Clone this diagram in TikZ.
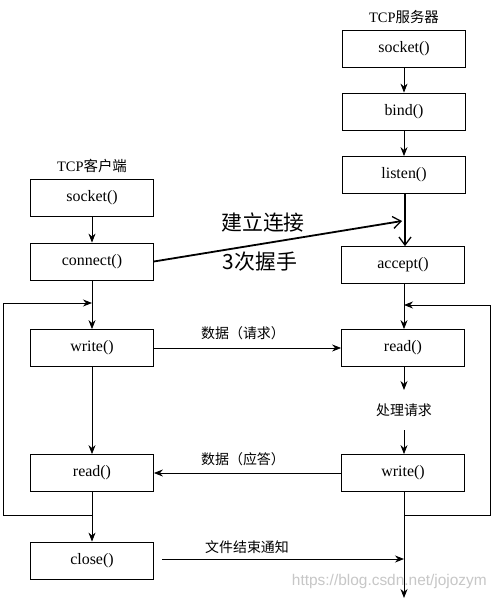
\documentclass[tikz,border=0pt]{standalone}
\usepackage{fontspec}
\setmainfont{Liberation Serif}
\newfontfamily\cjk{Noto Sans CJK SC}
\newfontfamily\wmfont{Liberation Sans}
\usetikzlibrary{arrows.meta}
\begin{document}
\begin{tikzpicture}[x=1bp,y=-1bp,
  box/.style={draw,line width=0.8bp,minimum width=123bp,minimum height=37bp,inner sep=0pt,font=\fontsize{16}{16}\selectfont},
  flow/.style={line width=0.8bp,-{Stealth[length=9bp,width=7bp]}},
  line/.style={line width=0.8bp},
  barb/.style={line width=1.8bp,-{Straight Barb[length=8bp,width=12bp,line width=1.3bp]}},
  lbl/.style={font=\cjk\fontsize{14}{14}\selectfont,inner sep=0pt},
  big/.style={font=\cjk\fontsize{21}{21}\selectfont,inner sep=0pt},
  title/.style={font=\fontsize{14.5}{14.5}\selectfont,inner sep=0pt}]
\useasboundingbox (0,0) rectangle (495,600);
\fill[white] (0,0) rectangle (495,600);
% server column
\node[title] (stitle) at (404,17) {TCP{\cjk 服务器}};
\node[box] (ssock) at (404,49) {socket()};
\node[box] (sbind) at (404,111.5) {bind()};
\node[box] (slisten) at (404,175) {listen()};
\node[box] (accept) at (403,265) {accept()};
\node[box] (sread) at (403,348) {read()};
\node[lbl] (proc) at (404,410) {处理请求};
\node[box] (swrite) at (403,473) {write()};
% client column
\node[title] (ctitle) at (92,166) {TCP{\cjk 客户端}};
\node[box] (csock) at (92,198) {socket()};
\node[box] (cconn) at (92,261.5) {connect()};
\node[box] (cwrite) at (92,348) {write()};
\node[box] (cread) at (92,473) {read()};
\node[box] (cclose) at (92,560.5) {close()};
% coordinates
\coordinate (cjoin) at (92,303);
\coordinate (cbot) at (92,515);
\coordinate (cleft) at (3,303);
\coordinate (sjoin) at (404,305);
\coordinate (sbot) at (404,515);
\coordinate (sright) at (490,305);
\coordinate (sreadout) at (404,390);
\coordinate (procout) at (404,430);
\coordinate (send) at (404,598);
\coordinate (hs) at (402,221);
\coordinate (finstart) at (162,559);
\coordinate (finend) at (404,559);
% server arrows
\draw[flow] (ssock.south) -- (sbind.north);
\draw[flow] (sbind.south) -- (slisten.north);
\draw[barb] (slisten.south -| 405,0) -- (accept.north -| 405,0);
\draw[flow] (accept.south -| sjoin) -- (sread.north -| sjoin);
\draw[flow] (sread.south -| sjoin) -- (sreadout);
\draw[flow] (procout) -- (swrite.north -| sjoin);
\draw[flow] (swrite.south -| sjoin) -- (send);
\draw[line] (sbot) -| (sright);
\draw[flow] (sright) -- (sjoin);
% client arrows
\draw[flow] (csock.south) -- (cconn.north);
\draw[flow] (cconn.south) -- (cwrite.north);
\draw[flow] (cwrite.south) -- (cread.north);
\draw[flow] (cread.south) -- (cclose.north);
\draw[line] (cbot) -| (cleft);
\draw[flow] (cleft) -- (cjoin);
% cross arrows
\draw[barb] (cconn.east) -- (hs);
\node[big] (l1) at (263,223) {建立连接};
\node[big] (l2) at (260,262) {3次握手};
\draw[flow] (cwrite.east) -- (sread.west);
\node[lbl] (req) at (243,333) {数据（请求）};
\draw[flow] (swrite.west) -- (cread.east);
\node[lbl] (resp) at (243,459) {数据（应答）};
\draw[flow] (finstart) -- (finend);
\node[lbl] (fin) at (247,547) {文件结束通知};
% watermark
\node[font=\wmfont\fontsize{15.5}{15.5}\selectfont,text=black!22,anchor=east,inner sep=0pt] (wm) at (487,582) {https://blog.csdn.net/jojozym};
\end{tikzpicture}
\end{document}
